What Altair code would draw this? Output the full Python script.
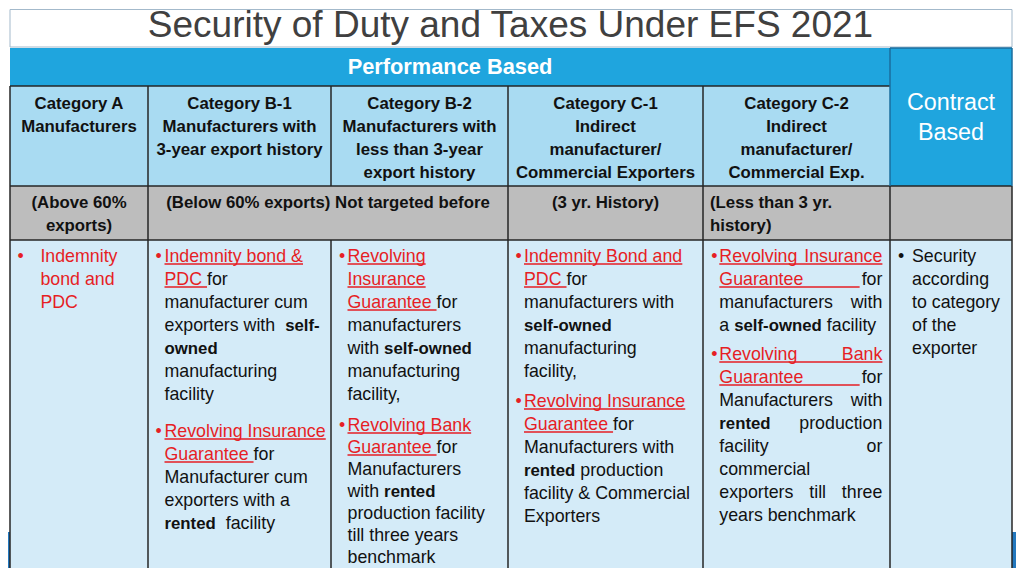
import re
import altair as alt
import pandas as pd

# ---------------- content ----------------
TITLE = "Security of Duty and Taxes Under EFS 2021"
PERF_LABEL = ["Performance Based"]
CONTRACT_LABEL = ["Contract", "Based"]

HEAD_A = ["Category A", "Manufacturers"]
HEAD_B1 = ["Category B-1", "Manufacturers with", "3-year export history"]
HEAD_B2 = ["Category B-2", "Manufacturers with", "less than 3-year", "export history"]
HEAD_C1 = ["Category C-1", "Indirect", "manufacturer/", "Commercial Exporters"]
HEAD_C2 = ["Category C-2", "Indirect", "manufacturer/", "Commercial Exp."]

EXPORT_A = ["(Above 60%", "exports)"]
EXPORT_B = ["(Below 60% exports) Not targeted before"]
EXPORT_C1 = ["(3 yr. History)"]
EXPORT_C2 = ["(Less than 3 yr.", "history)"]

# markup: [..] red underlined link, {..} red text, *..* bold
BODY_A = [["{Indemnity}", "{bond and}", "{PDC}"]]
BODY_B1 = [
    ["[Indemnity bond &]", "[PDC ]for", "manufacturer cum", "exporters with  *self-*",
     "*owned*", "manufacturing", "facility"],
    ["[Revolving Insurance]", "[Guarantee ]for", "Manufacturer cum", "exporters with a",
     "*rented*  facility"],
]
BODY_B2 = [
    ["[Revolving]", "[Insurance]", "[Guarantee ]for", "manufacturers", "with *self-owned*",
     "manufacturing", "facility,"],
    ["[Revolving Bank]", "[Guarantee ]for", "Manufacturers", "with *rented*",
     "production facility", "till three years", "benchmark"],
]
BODY_C1 = [
    ["[Indemnity Bond and]", "[PDC ]for", "manufacturers with", "*self-owned*",
     "manufacturing", "facility,"],
    ["[Revolving Insurance]", "[Guarantee ]for", "Manufacturers with", "*rented* production",
     "facility & Commercial", "Exporters"],
]
BODY_C2 = [
    ["[Revolving Insurance]", "[Guarantee ]for", "manufacturers with", "a *self-owned* facility"],
    ["[Revolving Bank]", "[Guarantee ]for", "Manufacturers with", "*rented* production",
     "facility or", "commercial", "exporters till three", "years benchmark"],
]
BODY_CB = [["Security", "according", "to category", "of the", "exporter"]]

# ---------------- layout ----------------
FONT = "Liberation Sans"
SIZE_R = 17.8
SIZE_B = 16.8
COL_EDGES = [10, 148, 331, 508, 703, 890, 1012]
BULLET_X = [20.5, 158.7, 342, 518.7, 714.3, 901]
TEXT_X = [40.4, 164.5, 347.5, 524, 719.3, 912]
JUSTIFY = [False, False, False, False, True, False]
JUSTIFY_RIGHT = 882.4
PARA_BASE = [[262], [262, 437], [262, 431], [262, 407], [262, 360], [262]]
PARA_STEP = [[23], [23, 23], [23, 22], [23, 23], [23, 23], [23]]
HEAD_BASE = 109
HEAD_STEP = 23
BAND_BASE = 208

RED = "#e61e25"
INK = "#111111"


def _table(pairs):
    d = {}
    for chars, w in pairs:
        for c in chars:
            d[c] = w
    return d


REG_W = _table([
    (" ", 278), ("&", 667), ("()", 333), (",.", 278), ("-", 333), ("/", 278),
    ("0123456789", 556), ("%", 889), ("•", 350),
    ("ABEKPSVXY", 667), ("CDHNRU", 722), ("FTZ", 611), ("GOQ", 778), ("I", 278),
    ("J", 500), ("L", 556), ("M", 833), ("W", 944),
    ("abdeghnopqu", 556), ("ckvxyzs", 500), ("fjt", 278), ("ijl", 222), ("t", 278),
    ("m", 833), ("r", 333), ("w", 722),
])
BOLD_W = _table([
    (" ", 278), ("&", 722), ("()", 333), (",.", 278), ("-", 333), ("/", 278),
    ("0123456789", 556), ("%", 889),
    ("ABCDHKNRU", 722), ("EPSVXY", 667), ("FTZL", 611), ("GOQ", 778), ("I", 278),
    ("J", 556), ("M", 833), ("W", 944),
    ("ae", 556), ("bdghnopqu", 611), ("cksvxy", 556), ("f", 333), ("t", 333),
    ("ijl", 278), ("m", 889), ("r", 389), ("w", 778), ("z", 500),
])


def text_width(t, style):
    if style == "bold":
        return sum(BOLD_W.get(c, 556) for c in t) / 1000 * SIZE_B
    return sum(REG_W.get(c, 556) for c in t) / 1000 * SIZE_R


def parse(line):
    segs = []
    for m in re.finditer(r"\[([^\]]*)\]|\{([^}]*)\}|\*([^*]*)\*|([^\[\{\*]+)", line):
        if m.group(1) is not None:
            segs.append((m.group(1), "link"))
        elif m.group(2) is not None:
            segs.append((m.group(2), "red"))
        elif m.group(3) is not None:
            segs.append((m.group(3), "bold"))
        else:
            segs.append((m.group(4), "reg"))
    return segs


texts = []
underlines = []


def add_text(x, y, t, kind):
    texts.append({"x": x, "y": y, "text": t, "kind": kind})


def layout_line(segs, x0, base, justify):
    if justify:
        words = []
        for si, (t, s) in enumerate(segs):
            for w in t.split():
                words.append([w, s, si])
        if len(words) > 1:
            total = sum(text_width(w, s) for w, s, _ in words)
            gap = (JUSTIFY_RIGHT - x0 - total) / (len(words) - 1)
            x = x0
            for w in words:
                w.append(x)
                x += text_width(w[0], w[1]) + gap
            for w, s, si, xx in words:
                add_text(xx, base, w, s)
            for si, (t, s) in enumerate(segs):
                if s != "link":
                    continue
                ws = [w for w in words if w[2] == si]
                start = ws[0][3]
                end = ws[-1][3] + text_width(ws[-1][0], s)
                idx = words.index(ws[-1])
                if t.endswith(" ") and idx + 1 < len(words):
                    end = words[idx + 1][3] - 2
                underlines.append({"x": start, "x2": end, "y": base + 2})
            return
    x = x0
    for t, s in segs:
        wdt = text_width(t, s)
        lead = len(t) - len(t.lstrip())
        stripped = t.strip()
        if stripped:
            add_text(x + text_width(t[:lead], s), base, stripped, s)
        if s == "link":
            underlines.append({"x": x, "x2": x + wdt, "y": base + 2})
        x += wdt


BODIES = [BODY_A, BODY_B1, BODY_B2, BODY_C1, BODY_C2, BODY_CB]
for ci, body in enumerate(BODIES):
    for pi, para in enumerate(body):
        b0 = PARA_BASE[ci][pi]
        step = PARA_STEP[ci][pi]
        first_style = parse(para[0])[0][1]
        add_text(BULLET_X[ci], b0, "•", "bullet_r" if first_style in ("link", "red") else "bullet_k")
        for li, line in enumerate(para):
            last = li == len(para) - 1
            layout_line(parse(line), TEXT_X[ci], b0 + li * step, JUSTIFY[ci] and not last)

# headers
HEADS = [HEAD_A, HEAD_B1, HEAD_B2, HEAD_C1, HEAD_C2]
for ci, head in enumerate(HEADS):
    cx = (COL_EDGES[ci] + COL_EDGES[ci + 1]) / 2
    for li, line in enumerate(head):
        add_text(cx, HEAD_BASE + li * HEAD_STEP, line, "head")

# export band
for li, line in enumerate(EXPORT_A):
    add_text((COL_EDGES[0] + COL_EDGES[1]) / 2, BAND_BASE + li * HEAD_STEP, line, "head")
for li, line in enumerate(EXPORT_B):
    add_text((COL_EDGES[1] + COL_EDGES[3]) / 2, BAND_BASE + li * HEAD_STEP, line, "head")
for li, line in enumerate(EXPORT_C1):
    add_text((COL_EDGES[3] + COL_EDGES[4]) / 2, BAND_BASE + li * HEAD_STEP, line, "head")
for li, line in enumerate(EXPORT_C2):
    add_text(710, BAND_BASE + li * HEAD_STEP, line, "band_l")

add_text(510.5, 37, TITLE, "title")
add_text(450, 74, PERF_LABEL[0], "perf")
for li, line in enumerate(CONTRACT_LABEL):
    add_text(951, 110 + li * 30, line, "contract")

text_df = pd.DataFrame(texts)
ul_df = pd.DataFrame(underlines)

XS = alt.Scale(domain=[8, 1016], nice=False, zero=False)
YS = alt.Scale(domain=[8, 568], nice=False, zero=False, reverse=True)

rects = pd.DataFrame([
    {"x": 10, "x2": 890, "y": 48, "y2": 86, "kind": "blue"},
    {"x": 890, "x2": 1012, "y": 48, "y2": 186, "kind": "blue"},
    {"x": 10, "x2": 890, "y": 86, "y2": 186, "kind": "head"},
    {"x": 10, "x2": 1012, "y": 186, "y2": 240, "kind": "band"},
    {"x": 10, "x2": 1012, "y": 240, "y2": 568, "kind": "body"},
    {"x": 8, "x2": 10, "y": 532, "y2": 568, "kind": "deco"},
    {"x": 1012, "x2": 1016, "y": 532, "y2": 568, "kind": "deco"},
])
fills = alt.Chart(rects).mark_rect().encode(
    x=alt.X("x:Q", scale=XS, axis=None), x2="x2:Q",
    y=alt.Y("y:Q", scale=YS, axis=None), y2="y2:Q",
    color=alt.Color("kind:N", legend=None, scale=alt.Scale(
        domain=["blue", "head", "band", "body", "deco"],
        range=["#1fa5de", "#a9dbf2", "#bdbdbd", "#d4ebf8", "#2378be"])),
)

frame = alt.Chart(pd.DataFrame([{"x": 10, "x2": 1012, "y": 9.5, "y2": 47}])).mark_rect(
    fill="white", stroke="#a3b9cb", strokeWidth=1).encode(
    x=alt.X("x:Q", scale=XS, axis=None), x2="x2:Q",
    y=alt.Y("y:Q", scale=YS, axis=None), y2="y2:Q")

dark_lines = pd.DataFrame([
    {"x": 10, "x2": 890, "y": 86, "y2": 86},
    {"x": 10, "x2": 1012, "y": 186, "y2": 186},
    {"x": 10, "x2": 1012, "y": 240, "y2": 240},
    {"x": 10, "x2": 10, "y": 86, "y2": 568},
    {"x": 148, "x2": 148, "y": 86, "y2": 568},
    {"x": 331, "x2": 331, "y": 86, "y2": 186},
    {"x": 331, "x2": 331, "y": 240, "y2": 568},
    {"x": 508, "x2": 508, "y": 86, "y2": 568},
    {"x": 703, "x2": 703, "y": 86, "y2": 568},
    {"x": 890, "x2": 890, "y": 186, "y2": 568},
    {"x": 1012, "x2": 1012, "y": 186, "y2": 568},
])
blue_lines = pd.DataFrame([
    {"x": 890, "x2": 890, "y": 48, "y2": 186},
    {"x": 890, "x2": 1012, "y": 48, "y2": 48},
    {"x": 1012, "x2": 1012, "y": 48, "y2": 186},
])


def rules(df, color, width):
    return alt.Chart(df).mark_rule(color=color, strokeWidth=width).encode(
        x=alt.X("x:Q", scale=XS, axis=None), x2="x2:Q",
        y=alt.Y("y:Q", scale=YS, axis=None), y2="y2:Q")


def text_layer(kind, **mk):
    sub = text_df[text_df.kind == kind]
    return alt.Chart(sub).mark_text(font=FONT, baseline="alphabetic", **mk).encode(
        x=alt.X("x:Q", scale=XS, axis=None),
        y=alt.Y("y:Q", scale=YS, axis=None),
        text="text:N")


layers = [
    fills,
    frame,
    rules(dark_lines, "#262626", 1.5),
    rules(blue_lines, "#1b6e9e", 1.5),
    text_layer("title", fontSize=37, color="#404040", align="center"),
    text_layer("perf", fontSize=21.8, fontWeight="bold", color="white", align="center"),
    text_layer("contract", fontSize=23.3, color="white", align="center"),
    text_layer("head", fontSize=SIZE_B, fontWeight="bold", color=INK, align="center"),
    text_layer("band_l", fontSize=SIZE_B, fontWeight="bold", color=INK, align="left"),
    text_layer("reg", fontSize=SIZE_R, color=INK, align="left"),
    text_layer("bold", fontSize=SIZE_B, fontWeight="bold", color=INK, align="left"),
    text_layer("link", fontSize=SIZE_R, color=RED, align="left"),
    text_layer("red", fontSize=SIZE_R, color=RED, align="left"),
    text_layer("bullet_r", fontSize=SIZE_R, color=RED, align="center"),
    text_layer("bullet_k", fontSize=SIZE_R, color=INK, align="center"),
    rules(ul_df, RED, 1.3),
]

chart = alt.layer(*layers).properties(
    width=1008, height=560,
    autosize=alt.AutoSizeParams(type="none"),
    padding=0,
).configure_view(strokeWidth=0)

chart.save("out.html", embed_options={"renderer": "svg", "actions": False})
